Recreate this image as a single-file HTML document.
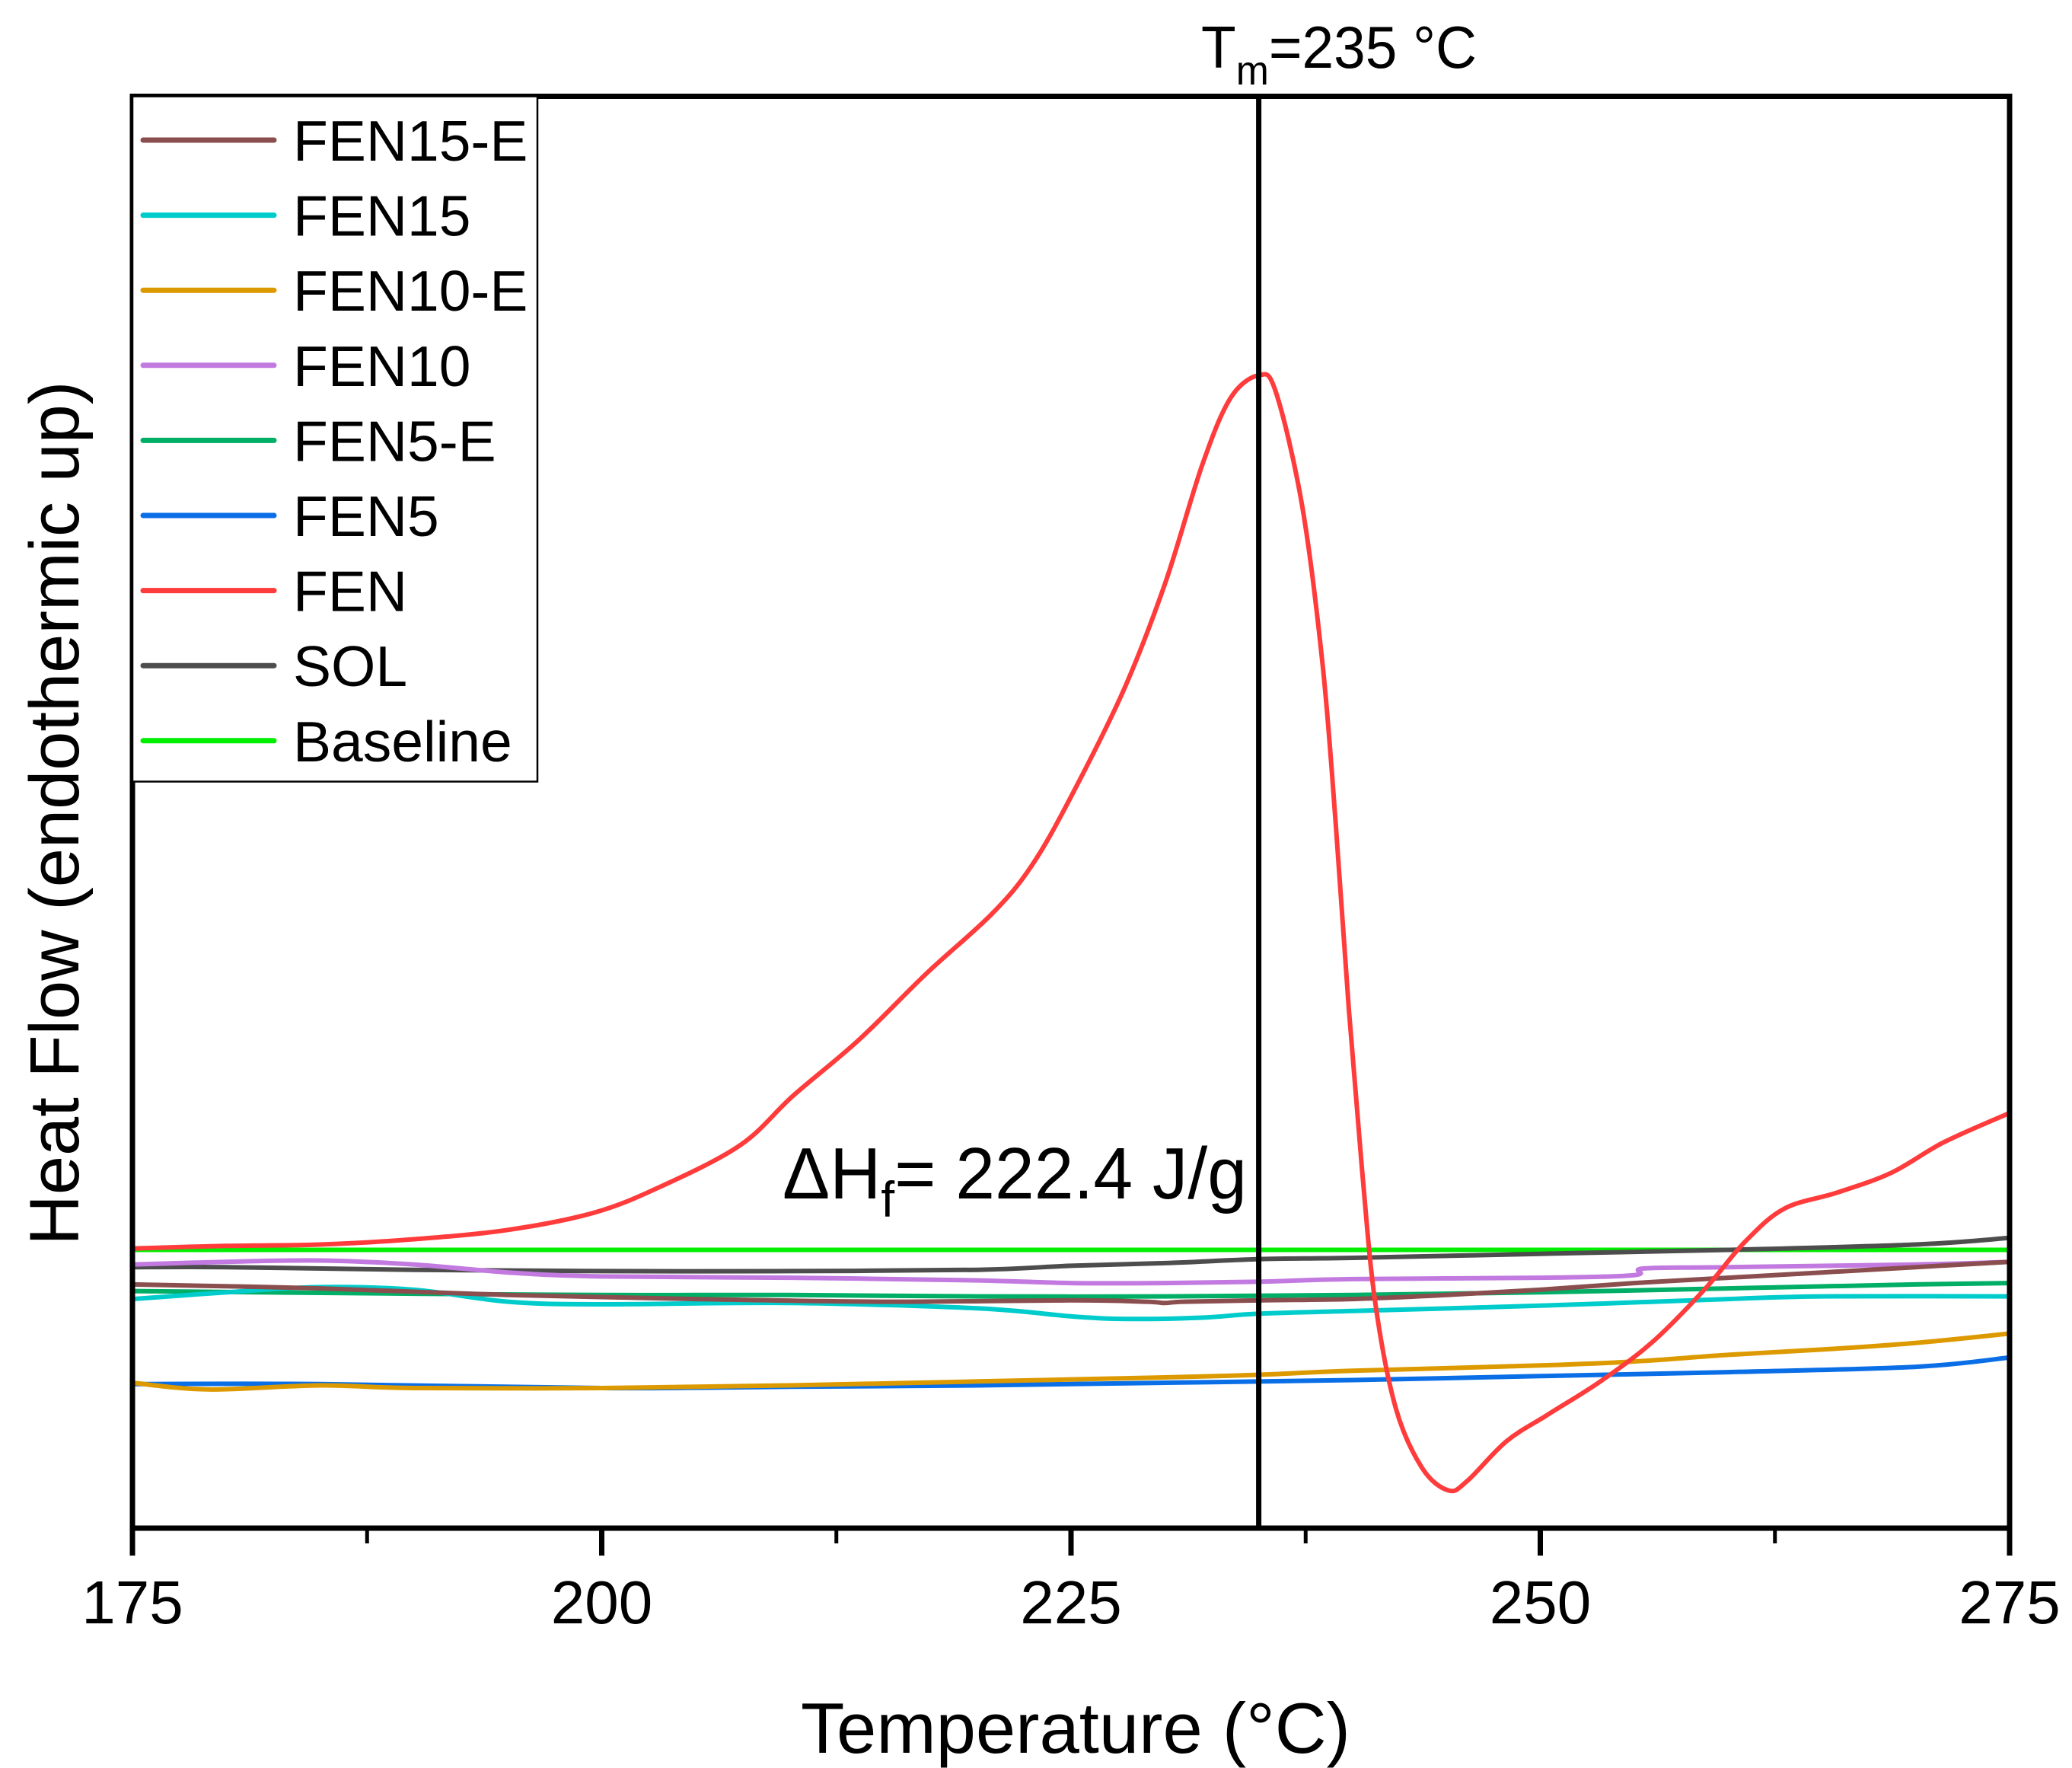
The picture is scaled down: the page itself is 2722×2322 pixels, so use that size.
<!DOCTYPE html>
<html><head><meta charset="utf-8"><style>
html,body{margin:0;padding:0;background:#fff;}
svg{display:block;font-family:"Liberation Sans",Arial,sans-serif;}
</style></head><body>
<svg id="chart" width="2722" height="2322" viewBox="0 0 2722 2322">
<rect x="0" y="0" width="2722" height="2322" fill="#fff"/>
<g id="series"></g>
<line id="tmline" y1="126.5" y2="2007" stroke="#000" stroke-width="7"/>
<rect x="174" y="126.5" width="2466" height="1880.5" fill="none" stroke="#000" stroke-width="7"/>
<g id="xticks"></g>
<g id="legend"></g>
<text x="1578" y="89" font-size="78" textLength="362" lengthAdjust="spacingAndGlyphs">T<tspan font-size="54" dy="22">m</tspan><tspan dy="-22">=235 °C</tspan></text>
<text x="1028" y="1574" font-size="96" textLength="610" lengthAdjust="spacingAndGlyphs">ΔH<tspan font-size="66" dy="24">f</tspan><tspan dy="-24">= 222.4 J/g</tspan></text>
<text x="1413" y="2302" font-size="94" text-anchor="middle">Temperature (°C)</text>
<text transform="translate(103,1068) rotate(-90)" font-size="92" text-anchor="middle">Heat Flow (endothermic up)</text>
</svg>
<script>
// data (temperature in °C, heat flow in arbitrary units)
const xTicks = [175, 200, 225, 250, 275];
const xMinorTicks = [187.5, 212.5, 237.5, 262.5];
const tm = 235;
const legendNames = ["FEN15-E","FEN15","FEN10-E","FEN10","FEN5-E","FEN5","FEN","SOL","Baseline"];
const legendColors = ["#8b4e4e","#00cccc","#dd9a00","#c27ae0","#00ae66","#0a6fe6","#ff3b3b","#4d4d4d","#00ee00"];

const baselineT = [175, 275];
const baselineV = [2.14, 2.14];
const solT = [175,180,190,200,210,220,225,230,235,240,250,260,270,275];
const solV = [2.01,2.01,1.99,1.98,1.98,1.99,2.02,2.04,2.07,2.08,2.11,2.14,2.18,2.23];
const fen10T = [175,180,185,190,195,200,210,220,225,230,235,240,250,255,255.5,260,270,275];
const fen10V = [2.03,2.05,2.06,2.03,1.97,1.94,1.93,1.91,1.89,1.89,1.90,1.92,1.93,1.95,2.00,2.01,2.03,2.05];
const fen15eT = [175,185,195,205,215,225,229,230,231,235,240,245,250,255,260,265,270,275];
const fen15eV = [1.88,1.85,1.80,1.77,1.75,1.76,1.75,1.74,1.75,1.76,1.77,1.80,1.84,1.89,1.93,1.97,2.01,2.05];
const fen5eT = [175,190,200,210,220,230,240,250,260,270,275];
const fen5eV = [1.83,1.81,1.80,1.80,1.79,1.79,1.80,1.82,1.85,1.88,1.89];
const fen15T = [175,180,185,190,195,200,210,220,225,228,232,235,240,250,260,265,275];
const fen15V = [1.77,1.82,1.86,1.84,1.75,1.73,1.74,1.70,1.64,1.62,1.63,1.66,1.68,1.72,1.77,1.79,1.79];
const fen10eT = [175,179,185,190,200,210,220,230,235,240,250,255,260,265,270,275];
const fen10eV = [1.14,1.09,1.12,1.10,1.10,1.12,1.15,1.18,1.20,1.23,1.27,1.30,1.35,1.39,1.44,1.51];
const fen5T = [175,185,200,210,220,230,240,250,260,270,275];
const fen5V = [1.13,1.13,1.10,1.11,1.12,1.14,1.16,1.19,1.22,1.26,1.33];
const fenT = [175,180,185,190,195,199.6,203.2,207.4,210.2,213.7,217.3,220.8,222.9,225,227.8,230,232,233.5,235,235.9,237.3,238.4,239.1,239.8,240.5,241.2,242.3,243.7,245.1,246.1,248.2,250.4,253.2,256,258.8,260.9,263,265.8,268.7,271.5,275];
const fenV = [2.15,2.17,2.18,2.22,2.29,2.42,2.62,2.93,3.30,3.72,4.22,4.67,5.03,5.55,6.35,7.15,8.05,8.55,8.72,8.60,7.75,6.55,5.35,3.95,2.75,1.75,0.95,0.50,0.33,0.40,0.70,0.90,1.15,1.45,1.85,2.20,2.45,2.57,2.72,2.95,3.17];

const X0 = 174, X1 = 2640, YB = 2015, YT = 126.5;
const xMin = 175, xMax = 275, yMin = 0, yMax = 10.82;
function xs(t){ return X0 + (t - xMin) / (xMax - xMin) * (X1 - X0); }
function ys(v){ return YB - (v - yMin) / (yMax - yMin) * (YB - YT); }
const NS = "http://www.w3.org/2000/svg";

function smoothPath(T, V){
  const P = T.map((t, i) => [xs(t), ys(V[i])]);
  let d = "M" + P[0][0].toFixed(1) + "," + P[0][1].toFixed(1);
  for (let i = 0; i < P.length - 1; i++) {
    const p0 = P[i - 1] || P[i], p1 = P[i], p2 = P[i + 1], p3 = P[i + 2] || P[i + 1];
    const c1 = [p1[0] + (p2[0] - p0[0]) / 6, p1[1] + (p2[1] - p0[1]) / 6];
    const c2 = [p2[0] - (p3[0] - p1[0]) / 6, p2[1] - (p3[1] - p1[1]) / 6];
    d += " C" + c1[0].toFixed(1) + "," + c1[1].toFixed(1) + " " + c2[0].toFixed(1) + "," + c2[1].toFixed(1) + " " + p2[0].toFixed(1) + "," + p2[1].toFixed(1);
  }
  return d;
}

const seriesList = [
  ["series-baseline", baselineT, baselineV, "#00ee00"],
  ["series-sol", solT, solV, "#4d4d4d"],
  ["series-fen10", fen10T, fen10V, "#c27ae0"],
  ["series-fen5-e", fen5eT, fen5eV, "#00ae66"],
  ["series-fen15", fen15T, fen15V, "#00cccc"],
  ["series-fen15-e", fen15eT, fen15eV, "#8b4e4e"],
  ["series-fen5", fen5T, fen5V, "#0a6fe6"],
  ["series-fen10-e", fen10eT, fen10eV, "#dd9a00"],
  ["series-fen", fenT, fenV, "#ff3b3b"]
];
const sg = document.getElementById("series");
seriesList.forEach(s => {
  const p = document.createElementNS(NS, "path");
  p.setAttribute("d", smoothPath(s[1], s[2]));
  p.setAttribute("fill", "none");
  p.setAttribute("stroke", s[3]);
  p.setAttribute("stroke-width", "6");
  p.setAttribute("stroke-linejoin", "round");
  p.setAttribute("stroke-linecap", "round");
  
  
  sg.appendChild(p);
});

const tl = document.getElementById("tmline");
tl.setAttribute("x1", xs(tm)); tl.setAttribute("x2", xs(tm));

const tg = document.getElementById("xticks");
xTicks.forEach(t => {
  const l = document.createElementNS(NS, "line");
  l.setAttribute("x1", xs(t)); l.setAttribute("x2", xs(t));
  l.setAttribute("y1", 2007); l.setAttribute("y2", 2043);
  l.setAttribute("stroke", "#000"); l.setAttribute("stroke-width", "7");
  
  
  tg.appendChild(l);
  const tx = document.createElementNS(NS, "text");
  tx.setAttribute("x", xs(t)); tx.setAttribute("y", 2132);
  tx.setAttribute("font-size", "80"); tx.setAttribute("text-anchor", "middle");
  tx.textContent = t;
  
  
  tg.appendChild(tx);
});
xMinorTicks.forEach(t => {
  const l = document.createElementNS(NS, "line");
  l.setAttribute("x1", xs(t)); l.setAttribute("x2", xs(t));
  l.setAttribute("y1", 2007); l.setAttribute("y2", 2027);
  l.setAttribute("stroke", "#000"); l.setAttribute("stroke-width", "5");
  
  
  tg.appendChild(l);
});

const lg = document.getElementById("legend");
const box = document.createElementNS(NS, "rect");
box.setAttribute("x", 174); box.setAttribute("y", 126.5);
box.setAttribute("width", 532); box.setAttribute("height", 900);
box.setAttribute("fill", "#fff"); box.setAttribute("stroke", "#000"); box.setAttribute("stroke-width", "2.5");


lg.appendChild(box);
legendNames.forEach((n, i) => {
  const y = 184 + 98.6 * i;
  const l = document.createElementNS(NS, "line");
  l.setAttribute("x1", 188); l.setAttribute("x2", 360);
  l.setAttribute("y1", y); l.setAttribute("y2", y);
  l.setAttribute("stroke", legendColors[i]); l.setAttribute("stroke-width", "7");
  l.setAttribute("stroke-linecap", "round");
  
  
  lg.appendChild(l);
  const tx = document.createElementNS(NS, "text");
  tx.setAttribute("x", 385); tx.setAttribute("y", y + 27);
  tx.setAttribute("font-size", "75");
  tx.textContent = n;
  
  
  lg.appendChild(tx);
});
</script>
</body></html>
